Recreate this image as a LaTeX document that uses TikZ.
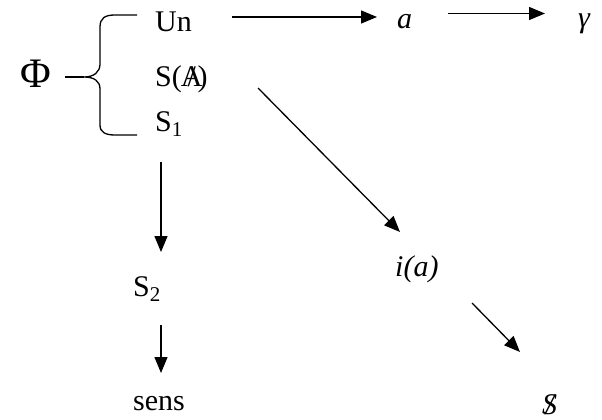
\documentclass[tikz,border=0pt]{standalone}
\usepackage{fontspec}
\setmainfont{Liberation Serif}
\usetikzlibrary{arrows.meta}

\tikzstyle{term} = [inner sep=0pt, anchor=base west, font=\fontsize{30}{32}\selectfont]
\tikzstyle{big} = [inner sep=0pt, anchor=base west, font=\fontsize{42}{44}\selectfont]
\tikzstyle{arr} = [line width=1.3pt, -{Triangle[length=16pt,width=13pt]}]
\tikzstyle{brace} = [line width=1.3pt]

\newcommand{\barred}[1]{\ooalign{#1\cr\hidewidth/\hidewidth}}

\begin{document}
\begin{tikzpicture}[x=1pt, y=-1pt]
\useasboundingbox (0,0) rectangle (602,420);
%terms
\node[big] (Phi) at (20,88) {Φ};
\node[term] (Un) at (155,32) {Un};
\node[term] (SA) at (155,86) {S(\kern-1pt\barred{A}\kern-5pt)};
\node[term] (S1) at (155,131) {S\textsubscript{1}};
\node[term] (a) at (397,29) {\textit{a}};
\node[term] (g) at (578,28) {\textit{γ}};
\node[term] (ia) at (395,276) {\textit{i(a)}};
\node[term] (S2) at (133,296) {S\textsubscript{2}};
\node[term] (sens) at (133,410) {sens};
\node[term] (Sbar) at (542,414) {\textit{\barred{S}}};
%brace
\coordinate (tip) at (84,77);
\draw[brace] (137,15) -- (115,15) .. controls (105,15) and (100,18) .. (100,27)
    -- (100,64) .. controls (100,72) and (94,77) .. (tip)
    .. controls (94,77) and (100,81) .. (100,89)
    -- (100,125) .. controls (100,132) and (105,135) .. (115,135) -- (137,135);
\draw[brace] ([xshift=45pt,yshift=11pt]Phi.base west) -- (tip);
%top row
\draw[arr] ([xshift=77pt,yshift=15pt]Un.base west) -- ([xshift=-20pt,yshift=15pt]Un.base west -| a.base west);
\draw[arr] ([xshift=51pt,yshift=15.5pt]a.base west) -- ([xshift=-33pt,yshift=15.5pt]a.base west -| g.base west);
%left column
\draw[arr] ([xshift=6pt,yshift=-31pt]S1.base west) -- ([xshift=28pt,yshift=44pt]S2.base west);
\draw[arr] ([xshift=28pt,yshift=-29pt]S2.base west) -- ([xshift=28pt,yshift=37pt]sens.base west);
%diagonal
\draw[arr] ([xshift=103pt,yshift=-2pt]SA.base west) -- ([xshift=5pt,yshift=44pt]ia.base west);
\draw[arr] ([xshift=77pt,yshift=-27pt]ia.base west) -- ([xshift=-22pt,yshift=62pt]Sbar.base west);
\end{tikzpicture}
\end{document}
